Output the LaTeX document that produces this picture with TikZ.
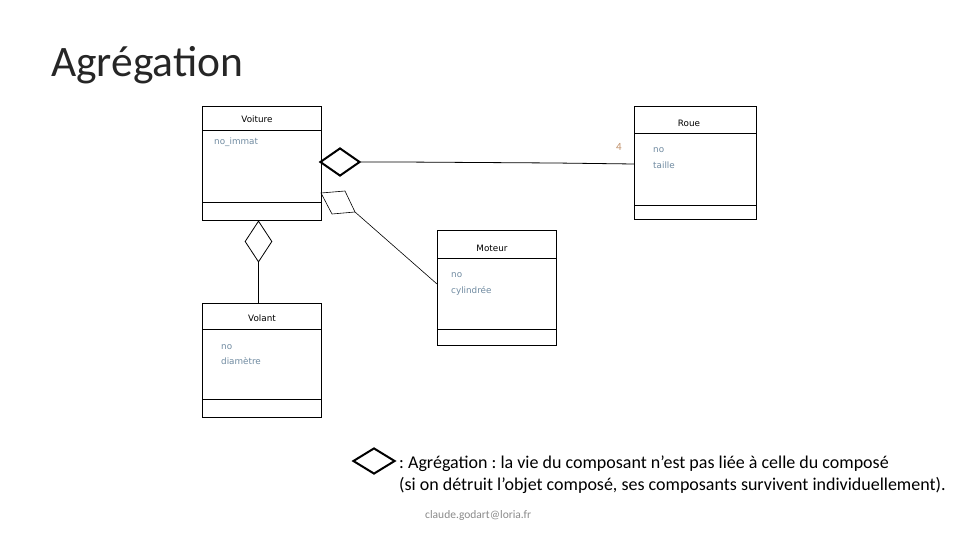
\documentclass[tikz,border=0pt]{standalone}
\usepackage{fontspec}
\setmainfont{Carlito}
\newfontfamily\boxfont{DejaVu Sans}
\usetikzlibrary{shapes.geometric}
\definecolor{attr}{HTML}{6F8AA0}
\definecolor{mult}{HTML}{C0906A}
\definecolor{foot}{HTML}{8A8A8A}
\definecolor{titlec}{HTML}{262626}
\tikzset{
  classbox/.style={draw, line width=0.8pt, rectangle, inner sep=0pt, anchor=north west},
  sepline/.style={line width=0.8pt},
  cname/.style={font=\boxfont\fontsize{8.8}{10}\selectfont, inner sep=0pt},
  cattr/.style={font=\boxfont\fontsize{8.8}{10}\selectfont, text=attr, inner sep=0pt, anchor=base west},
  agg/.style={draw, diamond, inner sep=0pt, line width=0.8pt},
  aggthick/.style={draw, diamond, inner sep=0pt, line width=2pt},
  link/.style={line width=0.8pt}
}
\begin{document}
\frenchspacing
\begin{tikzpicture}[x=1pt,y=-1pt]
\useasboundingbox (0,0) rectangle (960,540);
% title
\node[anchor=west, inner sep=0pt, text=titlec, font=\fontsize{43.5}{46}\selectfont] (title) at (51,65) {Agrégation};

% Voiture
\node[classbox, minimum width=119pt, minimum height=114pt] (voiture) at (202,106) {};
\draw[sepline] (202,130) -- (321,130);
\draw[sepline] (202,202) -- (321,202);
\node[cname] (voiturename) at (257,119) {Voiture};
\node[cattr] (voitureattr) at (214,145) {no\_immat};

% Roue
\node[classbox, minimum width=122pt, minimum height=113pt] (roue) at (634,106) {};
\draw[sepline] (634,133) -- (756,133);
\draw[sepline] (634,205) -- (756,205);
\node[cname] (rouename) at (689,123) {Roue};
\node[cattr] (roueattr1) at (653,153) {no};
\node[cattr] (roueattr2) at (653,168) {taille};

% Moteur
\node[classbox, minimum width=119pt, minimum height=115pt] (moteur) at (437,230) {};
\draw[sepline] (437,258) -- (556,258);
\draw[sepline] (437,329) -- (556,329);
\node[cname] (moteurname) at (492,248) {Moteur};
\node[cattr] (moteurattr1) at (451,277) {no};
\node[cattr] (moteurattr2) at (451,293) {cylindrée};

% Volant
\node[classbox, minimum width=119pt, minimum height=114pt] (volant) at (202,303) {};
\draw[sepline] (202,329) -- (321,329);
\draw[sepline] (202,399) -- (321,399);
\node[cname] (volantname) at (262,318) {Volant};
\node[cattr] (volantattr1) at (221,349) {no};
\node[cattr] (volantattr2) at (221,364) {diamètre};

% Voiture -- Roue aggregation
\node[aggthick, minimum width=40pt, minimum height=28pt] (d1) at (340,162) {};
\coordinate (roueend) at (634,164);
\draw[link] (d1.east) -- (401,162) -- (555,163) -- (roueend);
\node[inner sep=0pt, text=mult, font=\fontsize{11}{12}\selectfont] (m4) at (619,147) {4};

% Voiture -- Volant aggregation
\node[agg, minimum width=27pt, minimum height=41pt] (d2) at (258.5,241.5) {};
\draw[link] (d2.south) -- (volant.north -| d2.south);

% Voiture -- Moteur aggregation (skewed diamond)
\coordinate (q1) at (321,193);
\coordinate (q2) at (345,191);
\coordinate (q3) at (355,212);
\coordinate (q4) at (332,214);
\draw[line width=0.6pt] (q1) -- (q2) -- (q3) -- (q4) -- cycle;
\coordinate (motend) at (437,284);
\draw[line width=0.6pt] (q3) -- (motend);

% legend
\node[aggthick, minimum width=42pt, minimum height=26pt] (leg) at (374,461) {};
\node[anchor=north west, inner sep=0pt, align=left, font=\fontsize{18}{22}\selectfont] (legtext) at (399,456)
  {: Agrégation : la vie du composant n’est pas liée à celle du composé\\(si on détruit l’objet composé, ses composants survivent individuellement).};

% footer
\node[anchor=west, inner sep=0pt, text=foot, font=\fontsize{11.5}{12}\selectfont] (footer) at (425,515) {claude.godart@loria.fr};
\end{tikzpicture}
\end{document}
